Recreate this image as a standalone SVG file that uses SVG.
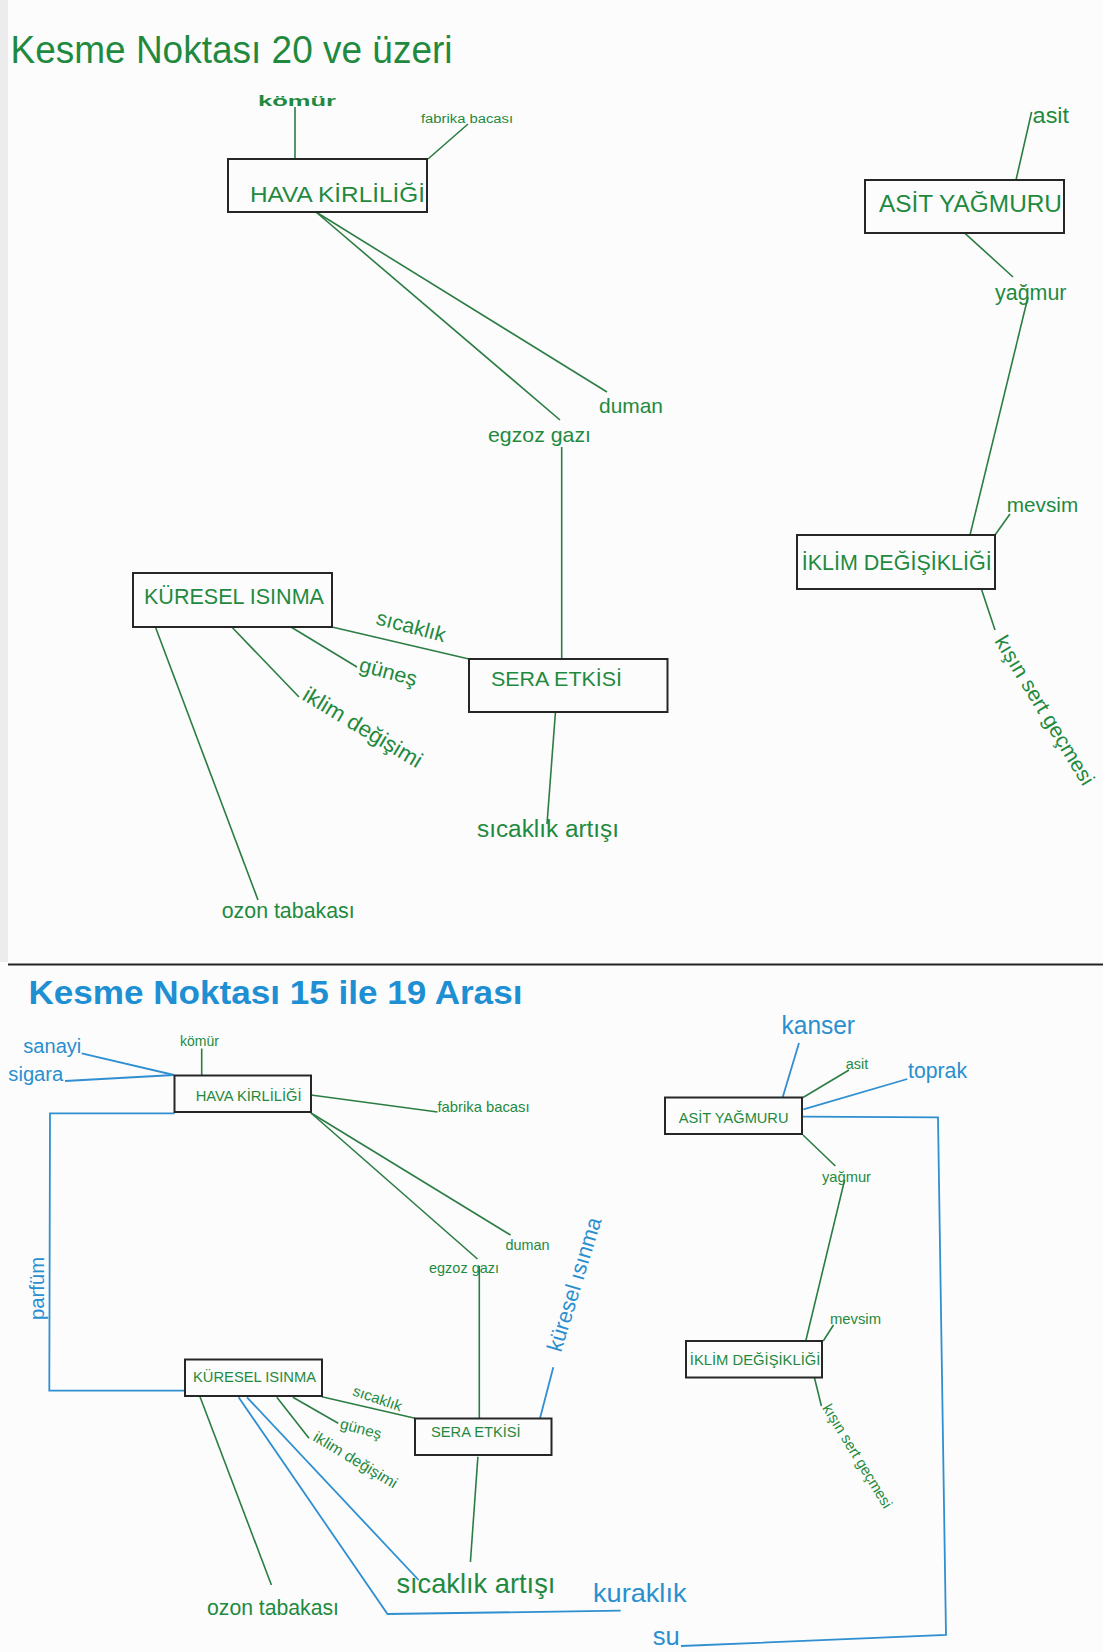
<svg xmlns="http://www.w3.org/2000/svg" width="1103" height="1652" viewBox="0 0 1103 1652">
  <style>
    text { font-family: "Liberation Sans", Arial, sans-serif; }
    .g { fill: #1f8a3f; }
    .b { fill: #2a8fcf; }
    .box { fill: none; stroke: #262626; stroke-width: 2; }
    .lg { fill: none; stroke: #2b7d43; stroke-width: 1.6; }
    .lb { fill: none; stroke: #2f8fd0; stroke-width: 1.8; }
  </style>
  <rect width="1103" height="1652" fill="#fcfcfc"/>
  <rect x="0" y="0" width="8" height="962" fill="#ececec"/>

  <!-- section 1 -->
  <g id="title-1"><text class="g" x="10.5" y="63" font-size="38" textLength="442" lengthAdjust="spacingAndGlyphs">Kesme Noktası 20 ve üzeri</text></g>

  <g id="connectors-1">
    <line class="lg" x1="295" y1="107" x2="295" y2="159"/>
    <line class="lg" x1="468" y1="124" x2="428" y2="159"/>
    <line class="lg" x1="316" y1="212" x2="607" y2="392"/>
    <line class="lg" x1="316" y1="212" x2="560" y2="420"/>
    <line class="lg" x1="561.7" y1="447" x2="561.7" y2="659"/>
    <line class="lg" x1="332" y1="627" x2="469" y2="659"/>
    <line class="lg" x1="291.4" y1="627.3" x2="357" y2="667"/>
    <line class="lg" x1="232" y1="627.3" x2="299" y2="697"/>
    <line class="lg" x1="155.5" y1="627.3" x2="258" y2="900"/>
    <line class="lg" x1="555.4" y1="712.7" x2="547" y2="824"/>
    <line class="lg" x1="1031.6" y1="112" x2="1016" y2="180"/>
    <line class="lg" x1="965" y1="233.3" x2="1013" y2="277"/>
    <line class="lg" x1="1028" y1="297" x2="970" y2="535"/>
    <line class="lg" x1="1010" y1="514" x2="995" y2="535"/>
    <line class="lg" x1="981.7" y1="590" x2="995" y2="630"/>
  </g>

  <g id="hava-kirliligi-1">
    <rect class="box" x="228" y="159" width="199" height="53"/>
    <text class="g" x="250" y="202" font-size="22" textLength="175" lengthAdjust="spacingAndGlyphs">HAVA KİRLİLİĞİ</text>
  </g>
  <g id="komur-1"><text class="g" x="258" y="106" font-size="14" font-weight="bold" textLength="78" lengthAdjust="spacingAndGlyphs">kömür</text></g>
  <g id="fabrika-bacasi-1"><text class="g" x="421" y="123" font-size="12" textLength="92" lengthAdjust="spacingAndGlyphs">fabrika bacası</text></g>
  <g id="duman-1"><text class="g" x="599" y="413" font-size="21" textLength="64" lengthAdjust="spacingAndGlyphs">duman</text></g>
  <g id="egzoz-gazi-1"><text class="g" x="488" y="442" font-size="21" textLength="103" lengthAdjust="spacingAndGlyphs">egzoz gazı</text></g>

  <g id="sera-etkisi-1">
    <rect class="box" x="469" y="659" width="198.5" height="53"/>
    <text class="g" x="491" y="686" font-size="21" textLength="131" lengthAdjust="spacingAndGlyphs">SERA ETKİSİ</text>
  </g>
  <g id="kuresel-isinma-1">
    <rect class="box" x="133" y="573" width="199" height="54"/>
    <text class="g" x="144" y="603.5" font-size="21.5" textLength="180" lengthAdjust="spacingAndGlyphs">KÜRESEL ISINMA</text>
  </g>
  <g id="sicaklik-1"><text class="g" transform="translate(375 624) rotate(15)" font-size="21" textLength="71" lengthAdjust="spacingAndGlyphs">sıcaklık</text></g>
  <g id="gunes-1"><text class="g" transform="translate(358 671) rotate(15)" font-size="21" textLength="59" lengthAdjust="spacingAndGlyphs">güneş</text></g>
  <g id="iklim-degisimi-1"><text class="g" transform="translate(301 699) rotate(31)" font-size="22" textLength="135" lengthAdjust="spacingAndGlyphs">iklim değişimi</text></g>
  <g id="ozon-tabakasi-1"><text class="g" x="221.7" y="918" font-size="21.5" textLength="133" lengthAdjust="spacingAndGlyphs">ozon tabakası</text></g>
  <g id="sicaklik-artisi-1"><text class="g" x="477" y="837" font-size="23" textLength="142" lengthAdjust="spacingAndGlyphs">sıcaklık artışı</text></g>

  <g id="asit-yagmuru-1">
    <rect class="box" x="865" y="180" width="199" height="53"/>
    <text class="g" x="879" y="212" font-size="23.5" textLength="183" lengthAdjust="spacingAndGlyphs">ASİT YAĞMURU</text>
  </g>
  <g id="asit-1"><text class="g" x="1032.6" y="123" font-size="22" textLength="36.5" lengthAdjust="spacingAndGlyphs">asit</text></g>
  <g id="yagmur-1"><text class="g" x="995" y="300" font-size="22" textLength="71.5" lengthAdjust="spacingAndGlyphs">yağmur</text></g>
  <g id="mevsim-1"><text class="g" x="1006.7" y="512" font-size="21" textLength="71.5" lengthAdjust="spacingAndGlyphs">mevsim</text></g>
  <g id="iklim-degisikligi-1">
    <rect class="box" x="797" y="535" width="198" height="54"/>
    <text class="g" x="801.7" y="570" font-size="21.5" textLength="190" lengthAdjust="spacingAndGlyphs">İKLİM DEĞİŞİKLİĞİ</text>
  </g>
  <g id="kisin-sert-gecmesi-1"><text class="g" transform="translate(994 641) rotate(58.6)" font-size="21" textLength="171" lengthAdjust="spacingAndGlyphs">kışın sert geçmesi</text></g>

  <!-- divider -->
  <line x1="8" y1="964.5" x2="1103" y2="964.5" stroke="#222" stroke-width="1.8"/>

  <!-- section 2 -->
  <g id="title-2"><text class="b" x="28.4" y="1003.5" font-size="34" font-weight="bold" textLength="494" lengthAdjust="spacingAndGlyphs" style="fill:#1e8fd2">Kesme Noktası 15 ile 19 Arası</text></g>

  <g id="connectors-2">
    <line class="lb" x1="81.7" y1="1053.3" x2="174" y2="1075"/>
    <line class="lb" x1="65" y1="1081" x2="174" y2="1075"/>
    <line class="lg" x1="201.7" y1="1048.5" x2="201.7" y2="1075"/>
    <line class="lg" x1="311" y1="1095" x2="437.5" y2="1112"/>
    <line class="lg" x1="311" y1="1113" x2="510.5" y2="1235"/>
    <line class="lg" x1="311" y1="1113" x2="477.5" y2="1259"/>
    <line class="lg" x1="479.3" y1="1266" x2="479.3" y2="1418.5"/>
    <line class="lb" x1="540" y1="1418.3" x2="553.3" y2="1367.3"/>
    <line class="lg" x1="321.8" y1="1396.7" x2="415" y2="1418.3"/>
    <line class="lg" x1="292.9" y1="1397.3" x2="338.2" y2="1423.3"/>
    <line class="lg" x1="276.8" y1="1397.3" x2="309" y2="1438.3"/>
    <line class="lg" x1="200" y1="1396.7" x2="271.4" y2="1585"/>
    <line class="lg" x1="477.9" y1="1456.7" x2="470.4" y2="1562"/>
    <line class="lb" x1="247" y1="1397.3" x2="418.6" y2="1580"/>
    <polyline class="lb" points="238.6,1397.3 387.5,1614 620.7,1610.7"/>
    <polyline class="lb" points="681,1646 946,1635 938,1117.3 802,1116.7"/>
    <polyline class="lb" points="174.5,1113.3 50,1113.3 49.3,1390.7 185,1390.7"/>
    <line class="lb" x1="799" y1="1043" x2="782.6" y2="1097.5"/>
    <line class="lg" x1="849" y1="1070" x2="803" y2="1097.5"/>
    <line class="lb" x1="907.3" y1="1079" x2="803.4" y2="1109.3"/>
    <line class="lg" x1="803" y1="1135" x2="835.3" y2="1166"/>
    <line class="lg" x1="844.6" y1="1180" x2="805.8" y2="1340.7"/>
    <line class="lg" x1="833.5" y1="1325" x2="823.2" y2="1341"/>
    <line class="lg" x1="814.4" y1="1377.5" x2="821.4" y2="1406"/>
  </g>

  <g id="sanayi-2"><text class="b" x="23.3" y="1053" font-size="20" textLength="58" lengthAdjust="spacingAndGlyphs">sanayi</text></g>
  <g id="sigara-2"><text class="b" x="8.3" y="1080.7" font-size="20" textLength="55" lengthAdjust="spacingAndGlyphs">sigara</text></g>
  <g id="komur-2"><text class="g" x="180" y="1046" font-size="14" textLength="39" lengthAdjust="spacingAndGlyphs">kömür</text></g>
  <g id="hava-kirliligi-2">
    <rect class="box" x="174.5" y="1075.5" width="136.5" height="36.5"/>
    <text class="g" x="195.7" y="1100.7" font-size="14.5" textLength="106" lengthAdjust="spacingAndGlyphs">HAVA KİRLİLİĞİ</text>
  </g>
  <g id="fabrika-bacasi-2"><text class="g" x="437.5" y="1112.3" font-size="15" textLength="92" lengthAdjust="spacingAndGlyphs">fabrika bacası</text></g>
  <g id="duman-2"><text class="g" x="505.4" y="1249.5" font-size="14.5" textLength="44" lengthAdjust="spacingAndGlyphs">duman</text></g>
  <g id="egzoz-gazi-2"><text class="g" x="429" y="1272.5" font-size="14.5" textLength="70" lengthAdjust="spacingAndGlyphs">egzoz gazı</text></g>
  <g id="parfum-2"><text class="b" transform="translate(44 1320) rotate(-90)" font-size="19.5" textLength="63" lengthAdjust="spacingAndGlyphs">parfüm</text></g>

  <g id="sera-etkisi-2">
    <rect class="box" x="415" y="1418.5" width="136.5" height="36.5"/>
    <text class="g" x="431" y="1436.7" font-size="14.5" textLength="89.7" lengthAdjust="spacingAndGlyphs">SERA ETKİSİ</text>
  </g>
  <g id="kuresel-isinma-label-2"><text class="b" transform="translate(561 1353) rotate(-73)" font-size="22" textLength="139" lengthAdjust="spacingAndGlyphs">küresel ısınma</text></g>
  <g id="kuresel-isinma-2">
    <rect class="box" x="185" y="1359.5" width="137" height="36.5"/>
    <text class="g" x="193" y="1381.7" font-size="14.5" textLength="123" lengthAdjust="spacingAndGlyphs">KÜRESEL ISINMA</text>
  </g>
  <g id="sicaklik-2"><text class="g" transform="translate(351.8 1395) rotate(19)" font-size="15" textLength="51" lengthAdjust="spacingAndGlyphs">sıcaklık</text></g>
  <g id="gunes-2"><text class="g" transform="translate(339.3 1428.3) rotate(15)" font-size="15" textLength="42" lengthAdjust="spacingAndGlyphs">güneş</text></g>
  <g id="iklim-degisimi-2"><text class="g" transform="translate(312 1440) rotate(31)" font-size="15.5" textLength="95" lengthAdjust="spacingAndGlyphs">iklim değişimi</text></g>
  <g id="ozon-tabakasi-2"><text class="g" x="207" y="1615" font-size="21.5" textLength="132" lengthAdjust="spacingAndGlyphs">ozon tabakası</text></g>
  <g id="sicaklik-artisi-2"><text class="g" x="396.4" y="1592.7" font-size="28" textLength="159" lengthAdjust="spacingAndGlyphs">sıcaklık artışı</text></g>
  <g id="kuraklik-2"><text class="b" x="593" y="1601.7" font-size="26" textLength="93.5" lengthAdjust="spacingAndGlyphs">kuraklık</text></g>
  <g id="su-2"><text class="b" x="652.8" y="1645" font-size="26" textLength="27" lengthAdjust="spacingAndGlyphs">su</text></g>

  <g id="asit-yagmuru-2">
    <rect class="box" x="665" y="1097.5" width="137" height="36.5"/>
    <text class="g" x="678.8" y="1122.7" font-size="14.5" textLength="109.7" lengthAdjust="spacingAndGlyphs">ASİT YAĞMURU</text>
  </g>
  <g id="kanser-2"><text class="b" x="781.6" y="1034" font-size="25" textLength="73.4" lengthAdjust="spacingAndGlyphs">kanser</text></g>
  <g id="asit-2"><text class="g" x="845.7" y="1069.3" font-size="14.5" textLength="22.5" lengthAdjust="spacingAndGlyphs">asit</text></g>
  <g id="toprak-2"><text class="b" x="908" y="1078.3" font-size="21.5" textLength="59" lengthAdjust="spacingAndGlyphs">toprak</text></g>
  <g id="yagmur-2"><text class="g" x="822" y="1181.7" font-size="14.5" textLength="49" lengthAdjust="spacingAndGlyphs">yağmur</text></g>
  <g id="mevsim-2"><text class="g" x="830" y="1324" font-size="14.5" textLength="51" lengthAdjust="spacingAndGlyphs">mevsim</text></g>
  <g id="iklim-degisikligi-2">
    <rect class="box" x="686" y="1341" width="136" height="36.5"/>
    <text class="g" x="689.8" y="1365" font-size="14.8" textLength="130.6" lengthAdjust="spacingAndGlyphs">İKLİM DEĞİŞİKLİĞİ</text>
  </g>
  <g id="kisin-sert-gecmesi-2"><text class="g" transform="translate(822 1408) rotate(58.5)" font-size="15" textLength="119" lengthAdjust="spacingAndGlyphs">kışın sert geçmesi</text></g>
</svg>
